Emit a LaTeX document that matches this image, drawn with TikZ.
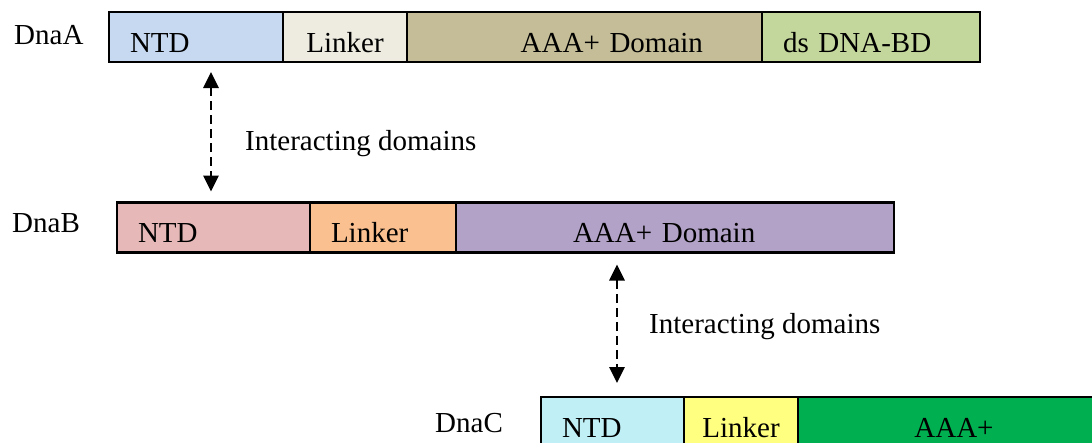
\documentclass[tikz,border=0pt]{standalone}
\usepackage{fontspec}
\setmainfont{Liberation Serif}
\usetikzlibrary{arrows.meta,positioning}
\definecolor{ntdA}{HTML}{C6D9F1}
\definecolor{lnkA}{HTML}{EEECE1}
\definecolor{aaaA}{HTML}{C4BD97}
\definecolor{dsA}{HTML}{C3D69B}
\definecolor{ntdB}{HTML}{E6B9B8}
\definecolor{lnkB}{HTML}{FAC090}
\definecolor{aaaB}{HTML}{B3A2C7}
\definecolor{ntdC}{HTML}{C0F0F6}
\definecolor{lnkC}{HTML}{FFFF80}
\definecolor{aaaC}{HTML}{00B050}

\begin{document}
\begin{tikzpicture}[x=1pt,y=-1pt,font=\fontsize{29pt}{34pt}\selectfont,
  seg/.style={draw,line width=2.2pt,outer sep=0pt,minimum height=50pt,inner ysep=0pt,
    text height=30pt,text depth=0pt,anchor=west},
  lab/.style={inner sep=0pt,anchor=base west},
  arr/.style={{Triangle[length=16pt,width=15pt]}-{Triangle[length=16pt,width=15pt]},
    line width=2.8pt,dash pattern=on 9pt off 5pt}]
\useasboundingbox (0,0) rectangle (1092,442);
\clip (0,0) rectangle (1092,442);
% DnaA
\node[lab] (dnaA) at (14,44) {DnaA};
\node[seg,fill=ntdA,text width=132pt,inner xsep=21pt,align=left] (a1) at (109,37) {NTD};
\node[seg,fill=lnkA,text width=124pt,inner xsep=0pt,align=center,right=0pt of a1] (a2) {Linker};
\node[seg,fill=aaaA,text width=237pt,inner xsep=59pt,align=right,right=0pt of a2] (a3) {AAA+ Domain};
\node[seg,fill=dsA,text width=176pt,inner xsep=21pt,align=left,right=0pt of a3] (a4) {ds DNA-BD};
% DnaB
\node[lab] (dnaB) at (12,232) {DnaB};
\node[seg,fill=ntdB,text width=151pt,inner xsep=21pt,align=left] (b1) at (117,227.5) {NTD};
\node[seg,fill=lnkB,text width=104pt,inner xsep=21pt,align=left,right=0pt of b1] (b2) {Linker};
\node[seg,fill=aaaB,text width=204pt,inner xsep=117pt,align=left,right=0pt of b2] (b3) {AAA+ Domain};
% DnaC
\node[lab] (dnaC) at (435,432) {DnaC};
\node[seg,fill=ntdC,text width=101pt,inner xsep=21pt,align=left] (c1) at (541,422) {NTD};
\node[seg,fill=lnkC,text width=114pt,inner xsep=0pt,align=center,right=0pt of c1] (c2) {Linker};
\node[seg,fill=aaaC,text width=312pt,inner xsep=0pt,align=center,right=0pt of c2] (c3) {AAA+};
% interactions
\coordinate (p1) at ([xshift=-2.5pt]b1.north);
\coordinate (p2) at ([xshift=4.5pt]c1.north);
\draw[arr,shorten <=10pt,shorten >=11pt] (a1.south -| p1) -- (p1);
\node[lab] (int1) at (245,150) {Interacting domains};
\draw[arr,shorten <=12pt,shorten >=14pt] (b3.south -| p2) -- (p2);
\node[lab] (int2) at (649,333) {Interacting domains};
\end{tikzpicture}
\end{document}
